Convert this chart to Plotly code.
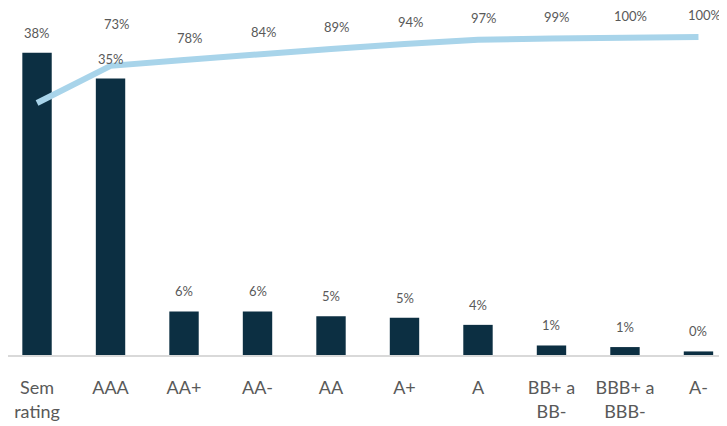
import numpy as np
import plotly.graph_objs as go

# data
categories = ["Sem<br>rating", "AAA", "AA+", "AA-", "AA", "A+", "A", "BB+ a<br>BB-", "BBB+ a<br>BBB-", "A-"]
share = [38.1, 34.85, 5.5, 5.5, 4.9, 4.7, 3.8, 1.2, 1.0, 0.45]
cumulative = np.cumsum(share)
bar_labels = [f"{v:.0f}%" for v in share]
cum_labels = ["", "73%", "78%", "84%", "89%", "94%", "97%", "99%", "100%", "100%"]
title_text = "Distribuição por rating (% do PL)"

navy = "#0c2f42"
light_blue = "#a8d4ea"
grey_text = "#595959"
font_family = "Lato, 'Open Sans', sans-serif"

x = list(range(len(categories)))

fig = go.Figure()
fig.add_trace(go.Bar(x=x, y=share, marker=dict(color=navy, line=dict(width=0)),
                     width=0.4, showlegend=False, hoverinfo="skip"))
fig.add_trace(go.Scatter(x=x, y=cumulative, yaxis="y2", mode="lines",
                         line=dict(color=light_blue, width=6), showlegend=False,
                         hoverinfo="skip"))

# labels over the bars
for i, v in enumerate(share):
    fig.add_annotation(x=i, y=v, xref="x", yref="y", text=bar_labels[i],
                       showarrow=False, yanchor="bottom", yshift=10,
                       font=dict(size=13, color=grey_text, family=font_family))

# labels over the cumulative line
for i, v in enumerate(cumulative):
    if not cum_labels[i]:
        continue
    shift = 32 if i == 1 else 12
    fig.add_annotation(x=i, y=v, xref="x", yref="y2", text=cum_labels[i],
                       showarrow=False, yanchor="bottom", yshift=shift, xshift=6,
                       font=dict(size=13, color=grey_text, family=font_family))

# title, mostly cut off at the top of the page
fig.add_annotation(x=0.53, y=1, xref="paper", yref="paper", text=f"<b>{title_text}</b>",
                   showarrow=False, yanchor="bottom", yshift=20,
                   font=dict(size=20, color=navy, family=font_family))

# page has an 8px body margin, so the plot area is shifted to compensate
fig.update_layout(
    width=727, height=426,
    margin=dict(l=0, r=0, t=22, b=79),
    plot_bgcolor="white", paper_bgcolor="white",
    font=dict(family=font_family, color=grey_text),
    xaxis=dict(tickmode="array", tickvals=x, ticktext=categories,
               range=[-0.395, 9.497], showgrid=False, zeroline=False,
               showline=True, linecolor="#d9d9d9", linewidth=1.5,
               ticks="outside", ticklen=16, tickcolor="rgba(0,0,0,0)",
               tickfont=dict(size=18, color=grey_text, family=font_family)),
    yaxis=dict(range=[0, 40.98], visible=False, showgrid=False),
    yaxis2=dict(range=[-198.3, 106.6], overlaying="y", visible=False, showgrid=False),
)

fig.write_html("out.html")
